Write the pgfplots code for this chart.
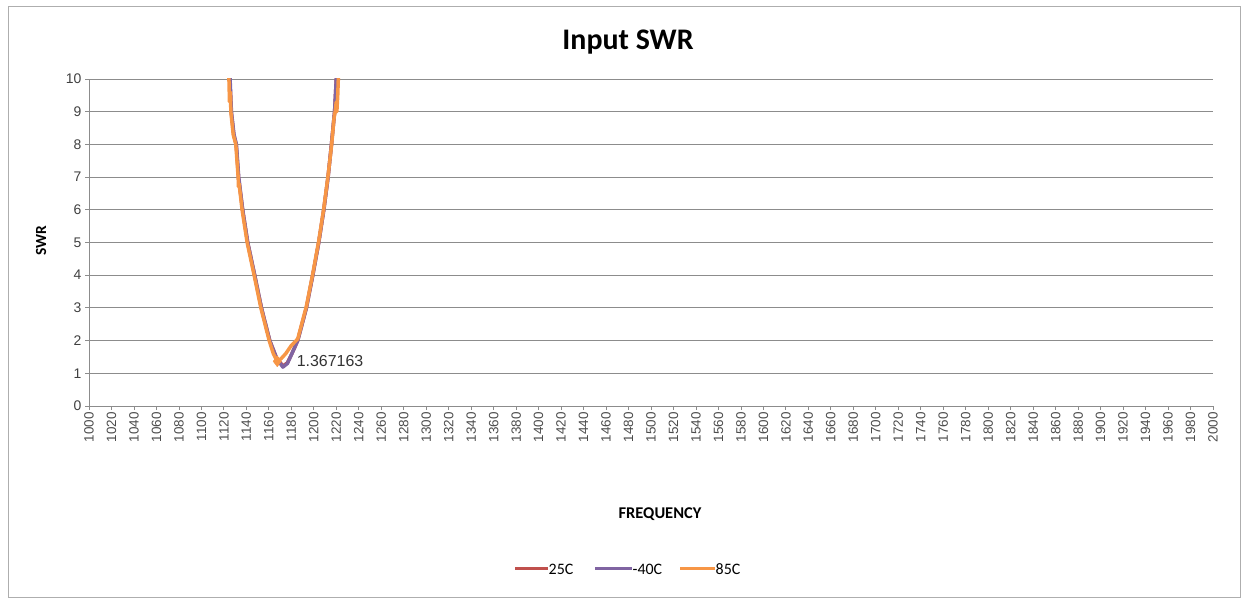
\documentclass[border=0pt]{standalone}
\usepackage{pgfplots}
\pgfplotsset{compat=1.18}
\usepackage{fontspec}
\setmainfont{Carlito}
\newfontfamily\arialf{Liberation Sans}
\definecolor{c25}{HTML}{C0504D}
\definecolor{c40}{HTML}{8064A2}
\definecolor{c85}{HTML}{F79646}
\definecolor{gridc}{HTML}{8C8C8C}
\begin{document}
\begin{tikzpicture}
\path[use as bounding box] (0,0) rectangle (1247bp,598bp);
\draw[gridc!70, line width=1bp] (8bp,1bp) rectangle (1240bp,591bp);
\node[font=\bfseries\fontsize{30}{34}\selectfont] at (628bp,556bp) {Input SWR};
\begin{axis}[
  at={(89bp,192bp)}, anchor=south west,
  scale only axis, width=1124bp, height=327bp,
  xmin=1000, xmax=2000, ymin=0, ymax=10,
  xtick distance=20, ytick distance=1,
  axis line style={gridc, line width=0.8bp},
  axis x line*=bottom, axis y line*=left,
  ymajorgrids, grid style={gridc, line width=0.8bp},
  major tick length=4bp, tick align=outside, tick style={gridc, line width=0.8bp},
  /pgf/number format/assume math mode=true,
  /pgf/number format/1000 sep={},
  xticklabel style={font=\arialf\fontsize{13.5}{15}\selectfont, rotate=90, anchor=east, text=black!70, inner sep=2bp},
  yticklabel style={font=\arialf\fontsize{14}{16}\selectfont, text=black!75},
  clip=true,
  every axis plot/.append style={line join=round},
]
\addplot[c25, line width=3.5bp] coordinates {
(1124.5,10.5) (1125.3,10) (1126.5,9) (1128.8,8.3) (1129.5,8.2) (1131,8) (1133,7) (1136.7,6) (1141.2,5) (1147.4,4) (1153.4,3) (1160.8,2) (1166.5,1.5) (1172.5,1.22) (1176.5,1.32) (1180.5,1.6) (1185.7,2) (1193.4,3) (1199.1,4) (1204.4,5) (1208.9,6) (1212.7,7) (1215.7,8) (1218.5,9) (1220,10) (1220.5,10.5)
};
\addplot[c40, line width=3.5bp] coordinates {
(1125,10.5) (1125.5,10) (1126.7,9) (1129,8.3) (1129.7,8.2) (1131.1,8) (1133.2,7) (1136.7,6) (1141.2,5) (1147.4,4) (1153.4,3) (1160.8,2) (1167,1.45) (1172.5,1.19) (1176.5,1.3) (1180.5,1.6) (1185.7,2) (1193.4,3) (1199.1,4) (1204.4,5) (1208.9,6) (1212.7,7) (1215.7,8) (1218.5,9) (1220,10) (1220.5,10.5)
};
\addplot[c85, line width=3.5bp] coordinates {
(1124,10.5) (1124.5,10) (1125,9.3) (1125.8,9.6) (1126.2,9) (1128.3,8.3) (1130.6,8) (1132.7,7) (1133,6.7) (1133.5,6.8) (1136.2,6) (1140.7,5) (1146.9,4) (1152.9,3) (1160.3,2) (1164,1.6) (1167.5,1.367163) (1171,1.45) (1175,1.6) (1180,1.85) (1185.7,2.05) (1193.4,3.05) (1199.1,4.05) (1204.4,5.05) (1208.9,6.05) (1212.7,7.05) (1215.9,8) (1218,8.8) (1219,9) (1220,9.3) (1220.5,9) (1221.3,9.5) (1221.8,10) (1222.3,10.5)
};
\addplot[c85, only marks, mark=diamond*, mark size=5.5bp, forget plot] coordinates {(1167.5,1.367163)}
  node[pos=0, anchor=west, xshift=16bp, font=\arialf\fontsize{16}{18}\selectfont, text=black!80] {1.367163};
\end{axis}
\node[rotate=90, font=\bfseries\fontsize{15.5}{18}\selectfont] at (41bp,357bp) {SWR};
\node[font=\bfseries\fontsize{16.5}{19}\selectfont] at (660bp,84bp) {FREQUENCY};
\begin{scope}[font=\fontsize{16}{19}\selectfont]
\draw[c25, line width=3bp] (515bp,29bp) -- (548bp,29bp);
\node[anchor=west, inner sep=0.5bp] at (548bp,29bp) {25C};
\draw[c40, line width=3bp] (595bp,29bp) -- (632bp,29bp);
\node[anchor=west, inner sep=0.5bp] at (632bp,29bp) {-40C};
\draw[c85, line width=3bp] (680bp,29bp) -- (715bp,29bp);
\node[anchor=west, inner sep=0.5bp] at (715bp,29bp) {85C};
\end{scope}
\end{tikzpicture}
\end{document}
